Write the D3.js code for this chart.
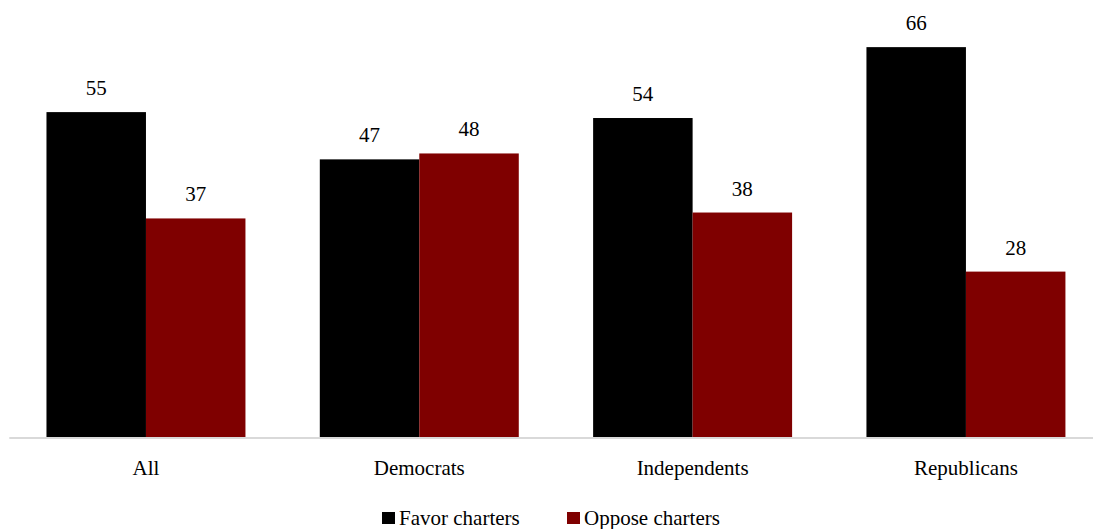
<!DOCTYPE html>
<html>
<head>
<meta charset="utf-8">
<script src="https://cdn.jsdelivr.net/npm/d3@7"></script>
</head>
<body style="margin:0">
<svg id="chart" width="1093" height="529"></svg>
<script>
// Support for charter schools by party
const categories = ["All", "Democrats", "Independents", "Republicans"];
const seriesNames = ["Favor charters", "Oppose charters"];
const favorValues = [55, 47, 54, 66];
const opposeValues = [37, 48, 38, 28];
const seriesColors = ["#000000", "#7f0000"];

const svg = d3.select("#chart");
const plot = { left: 9.3, right: 1102.6, top: 23.5, bottom: 437 };

const x = d3.scaleBand()
  .domain(categories)
  .range([plot.left, plot.right])
  .paddingInner(0)
  .paddingOuter(0);

const groupWidth = x.bandwidth() * 0.728;
const xs = d3.scaleBand()
  .domain(seriesNames)
  .range([0, groupWidth])
  .padding(0);

const y = d3.scaleLinear().domain([0, 70]).range([plot.bottom, plot.top]);

const rows = categories.map((c, i) => ({
  category: c,
  values: [
    { series: seriesNames[0], value: favorValues[i], color: seriesColors[0] },
    { series: seriesNames[1], value: opposeValues[i], color: seriesColors[1] }
  ]
}));

const groups = svg.append("g").selectAll("g")
  .data(rows)
  .join("g")
  .attr("transform", d => `translate(${x(d.category) + (x.bandwidth() - groupWidth) / 2},0)`);

groups.selectAll("rect")
  .data(d => d.values)
  .join("rect")
  .attr("x", d => xs(d.series))
  .attr("width", xs.bandwidth())
  .attr("y", d => y(d.value))
  .attr("height", d => y(0) - y(d.value))
  .attr("fill", d => d.color);

groups.selectAll("text.value")
  .data(d => d.values)
  .join("text")
  .attr("class", "value")
  .attr("x", d => xs(d.series) + xs.bandwidth() / 2)
  .attr("y", d => y(d.value) - 17)
  .attr("text-anchor", "middle")
  .attr("font-size", 21)
  .attr("fill", "#000")
  .text(d => d.value);

// category axis
const axis = svg.append("g")
  .attr("transform", `translate(0,${plot.bottom})`)
  .call(d3.axisBottom(x).tickSize(0).tickPadding(0));
axis.attr("font-family", null).attr("font-size", 21);
axis.select(".domain").attr("stroke", "#d9d9d9").attr("stroke-width", 2)
  .attr("d", `M${plot.left},1H${plot.right}`);
axis.selectAll(".tick text")
  .attr("y", 38)
  .attr("dy", null)
  .attr("fill", "#000");

// legend
const legendItems = [
  { name: seriesNames[0], color: seriesColors[0], x: 382 },
  { name: seriesNames[1], color: seriesColors[1], x: 567 }
];
const legend = svg.append("g").selectAll("g")
  .data(legendItems)
  .join("g")
  .attr("transform", d => `translate(${d.x},0)`);
legend.append("rect")
  .attr("x", 0).attr("y", 512)
  .attr("width", 13).attr("height", 12)
  .attr("fill", d => d.color);
legend.append("text")
  .attr("x", 17).attr("y", 525)
  .attr("font-size", 21)
  .attr("fill", "#000")
  .text(d => d.name);
</script>
</body>
</html>
